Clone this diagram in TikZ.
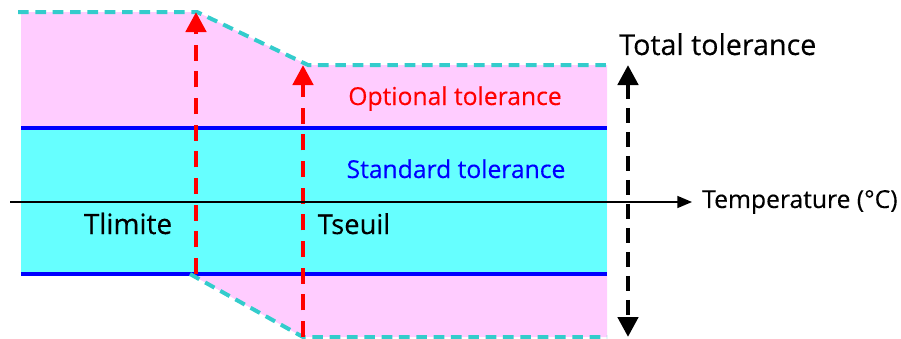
\documentclass[tikz,border=0pt]{standalone}
\usepackage{fontspec}
\setmainfont{Open Sans}[FakeBold=0.3]
\usepackage{tikz}
\usetikzlibrary{arrows.meta,positioning,calc}

\definecolor{optpink}{HTML}{FFCCFF}
\definecolor{stdcyan}{HTML}{66FFFF}
\definecolor{edgecyan}{HTML}{33CCCC}
\definecolor{stdblue}{HTML}{0000FF}
\definecolor{limred}{HTML}{FF0000}

\tikzset{
    edgeline/.style={edgecyan, line width=3pt, dash pattern=on 8pt off 5pt},
    limarrow/.style={limred, line width=3.5pt, dash pattern=on 12pt off 8pt,
        -{Triangle[length=15pt,width=15pt]}},
    totarrow/.style={black, line width=3.5pt, dash pattern=on 11pt off 7pt,
        {Triangle[length=15pt,width=15pt]}-{Triangle[length=15pt,width=15pt]}},
    lbl/.style={inner sep=0pt, anchor=base}
}

\begin{document}
\begin{tikzpicture}[x=0.75pt, y=-0.75pt]
    \useasboundingbox (0,0) rectangle (901,339);

    % Corners of the tolerance zones
    \coordinate (a1) at (21,12);
    \coordinate (a2) at (197,12);
    \coordinate (a3) at (308,65);
    \coordinate (a4) at (607,65);
    \coordinate (b1) at (21,274);
    \coordinate (b2) at (190,274);
    \coordinate (b3) at (303,337);
    \coordinate (b4) at (607,337);

    % Optional tolerance (pink)
    \fill[optpink] (a1) -- (a2) -- (a3) -- (a4) -- (b4) -- (b3) -- (b2) -- (b1) -- cycle;
    % Standard tolerance (cyan)
    \fill[stdcyan] (21,128) rectangle (607,274);
    \foreach \y in {128,274} {
        \draw[stdblue, line width=3pt] (21,\y) -- (607,\y);
    }

    % Dashed borders
    \draw[edgeline] (18,12) -- (a2) -- (a3) -- (a4);
    \draw[edgeline] (b2) -- (b3) -- (b4);

    % Limits
    \coordinate (tl0) at (196,274);
    \coordinate (tl1) at (196,12);
    \coordinate (ts0) at (303,337);
    \coordinate (ts1) at (303,65);
    \draw[limarrow] (tl0) -- (tl1);
    \draw[limarrow] (ts0) -- (ts1);

    % Temperature axis
    \node[lbl, anchor=west, font=\fontsize{18.5}{20}\selectfont] (temp) at (702,202) {Temperature (°C)};
    \coordinate (ax0) at (10,202);
    \draw[line width=1.1pt, -{Triangle[length=11pt,width=9pt]}] (ax0) -- ($(temp.west)+(-10,0)$);

    % Total tolerance
    \coordinate (tt0) at (628,65);
    \coordinate (tt1) at (628,337);
    \draw[totarrow] (tt0) -- (tt1);
    \node[lbl, anchor=base west, font=\fontsize{21.5}{23}\selectfont] (total) at (619,55) {Total tolerance};

    % Labels
    \node[lbl, limred, font=\fontsize{18.5}{20}\selectfont] (opt) at (455,105) {Optional tolerance};
    \node[lbl, stdblue, font=\fontsize{18.5}{20}\selectfont] (std) at (456,178) {Standard tolerance};
    \node[lbl, font=\fontsize{21}{23}\selectfont] (tlim) at (128,234) {Tlimite};
    \node[lbl, font=\fontsize{20.5}{22}\selectfont] (tseu) at (354,234) {Tseuil};
\end{tikzpicture}
\end{document}
